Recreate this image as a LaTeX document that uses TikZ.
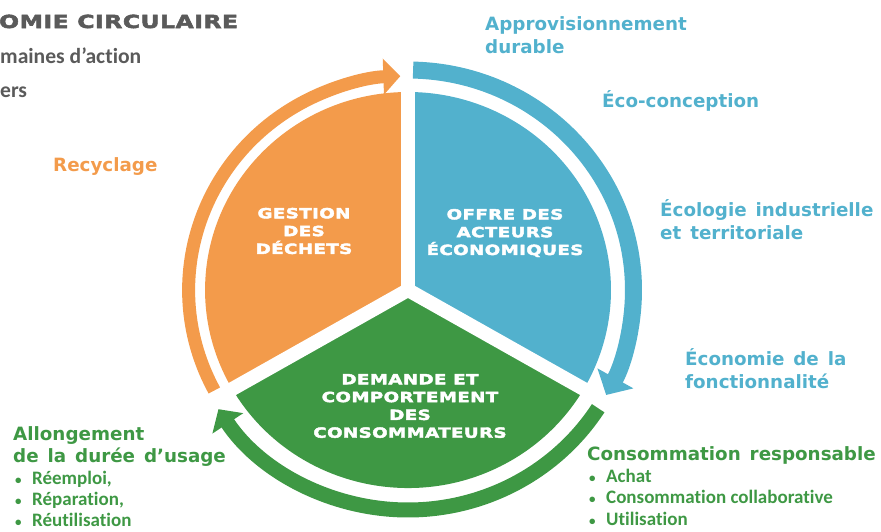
\documentclass[tikz,border=0pt]{standalone}
\usepackage{fontspec}
\usetikzlibrary{arrows.meta}
\setmainfont{Carlito}[Ligatures=NoCommon]
\newfontfamily\headfont[WordSpace=1.4]{DejaVu Sans}
\newfontfamily\blockfont[FakeStretch=1.3,LetterSpace=3,FakeBold=3]{DejaVu Sans Bold}
\definecolor{orangeC}{HTML}{F39B4B}
\definecolor{blueC}{HTML}{52B1CD}
\definecolor{greenC}{HTML}{3E9844}
\definecolor{greyC}{HTML}{5A5A5A}
\newcommand{\puce}{\makebox[19pt][l]{\hspace{2pt}\fontsize{13}{13}\selectfont•}}
\tikzset{
  head/.style={font=\headfont\bfseries\fontsize{18.3}{23}\selectfont, anchor=base west, inner sep=0pt},
  bulletline/.style={font=\bfseries\fontsize{19}{22}\selectfont, anchor=base west, inner sep=0pt, text=greenC},
  block/.style={font=\blockfont\fontsize{14}{17.8}\selectfont, text=white, align=center, inner sep=0pt},
}
\begin{document}
\begin{tikzpicture}[x=1pt, y=1pt]
\useasboundingbox (0,0) rectangle (881,-531);

% the three sectors and their rim arrows
\begin{scope}[shift={(408,-290)}, xscale=1.025]
  \fill[orangeC] (0,0) -- (90:198) arc[start angle=90, end angle=210, radius=198] -- cycle;
  \fill[blueC] (0,0) -- (-30:198) arc[start angle=-30, end angle=90, radius=198] -- cycle;
  \fill[greenC] (0,0) -- (210:198) arc[start angle=210, end angle=330, radius=198] -- cycle;
  \foreach \a in {90,210,330}
  {
    \draw[white, line width=14pt] (0,0) -- (\a:201);
  }
  \draw[orangeC, line width=13pt, -{Triangle[width=35pt,length=17pt]}] (208:214) arc[start angle=208, end angle=92, radius=214];
  \draw[blueC, line width=17pt, -{Triangle[width=40pt,length=19pt]}] (88.7:220) arc[start angle=88.7, end angle=-28.5, radius=220];
  \draw[greenC, line width=15pt, -{Triangle[width=36pt,length=17pt]}] (-32.5:220) arc[start angle=-32.5, end angle=-147.2, radius=220];
\end{scope}

\node[block] (gestion) at (304,-231) {GESTION\\DES\\DÉCHETS};
\node[block] (offre) at (505,-233) {OFFRE DES\\ACTEURS\\ÉCONOMIQUES};
\node[block] (demande) at (410,-406) {DEMANDE ET\\COMPORTEMENT\\DES\\CONSOMMATEURS};

% title, cut at the left
\node[font=\blockfont\fontsize{18}{23}\selectfont, text=greyC, anchor=base west, inner sep=0pt] (titre) at (-1,-28) {OMIE CIRCULAIRE};
\node[font=\bfseries\fontsize{21.6}{26}\selectfont, text=greyC, anchor=base west, inner sep=0pt] (domaines) at (0,-63) {maines d’action};
\node[font=\bfseries\fontsize{21.6}{26}\selectfont, text=greyC, anchor=base west, inner sep=0pt] (leviers) at (0,-97) {ers};

% blue labels
\node[head, text=blueC] (appro) at (485,-30) {Approvisionnement};
\node[head, text=blueC] (durable) at (485,-53) {durable};
\node[head, text=blueC] (eco) at (602,-107) {Éco-conception};
\node[head, text=blueC] (ecologie) at (660,-216) {Écologie industrielle};
\node[head, text=blueC] (territ) at (660,-239) {et territoriale};
\node[head, text=blueC] (economie) at (685,-365) {Économie de la};
\node[head, text=blueC] (fonction) at (685,-388) {fonctionnalité};

% orange label
\node[head, text=orangeC] (recyclage) at (53,-171) {Recyclage};

% green labels
\node[head, text=greenC] (allong) at (13,-440) {Allongement};
\node[head, text=greenC] (duree) at (13,-462) {de la durée d’usage};
\foreach \txt [count=\i] in {{Réemploi,}, {Réparation,}, Réutilisation}
{
    \node[bulletline] (usage\i) at (13,{-484-21*(\i-1)}) {\puce\txt};
}
\node[head, text=greenC] (conso) at (587,-460) {Consommation responsable};
\foreach \txt [count=\i] in {Achat, Consommation collaborative, Utilisation}
{
    \node[bulletline] (achat\i) at (587,{-482-21.5*(\i-1)}) {\puce\txt};
}
\end{tikzpicture}
\end{document}
